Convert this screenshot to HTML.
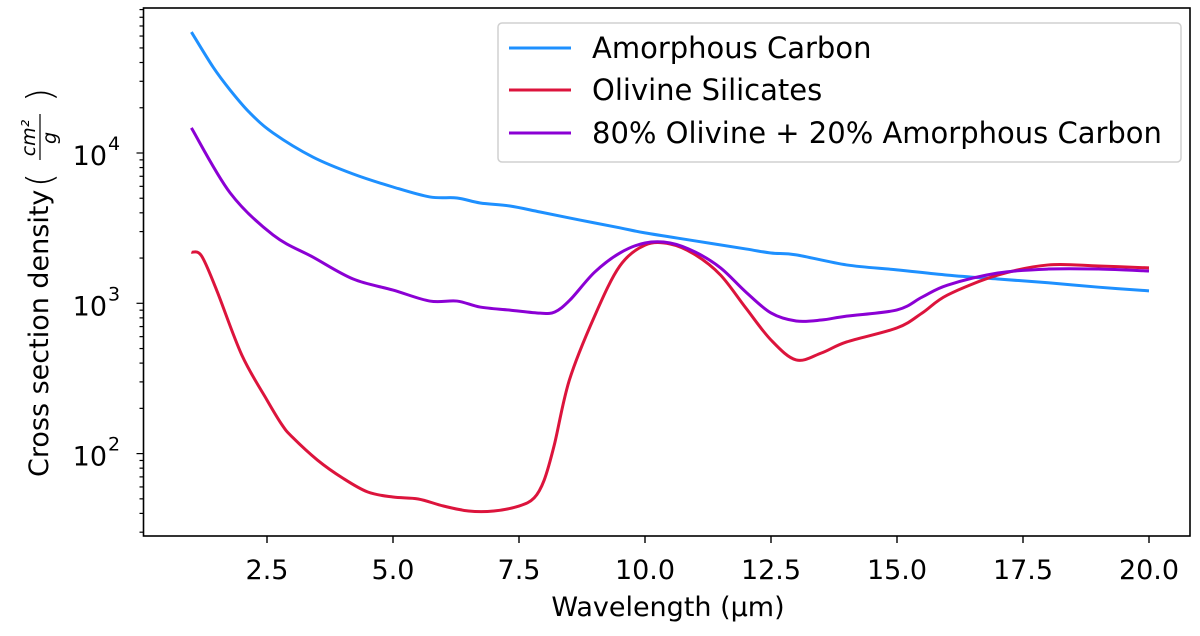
<!DOCTYPE html>
<html><head><meta charset="utf-8"><style>
html,body{margin:0;padding:0;background:#fff;}
svg{display:block;font-family:"DejaVu Sans","Liberation Sans",sans-serif;}
</style></head><body>
<svg id="chart" width="1200" height="636" viewBox="0 0 1200 636" xmlns="http://www.w3.org/2000/svg"></svg>
<script>
const wlCarbon=[1.0,1.43,1.77,2.16,2.62,3.41,4.21,5.0,5.73,6.27,6.73,7.32,7.92,8.71,9.5,10,11,12,12.5,13,14,15,16,17,18,19,20];
const carbon=[63800,37300,26200,18500,13600,9400,7250,5940,5100,5020,4650,4440,4050,3580,3180,2940,2600,2300,2160,2100,1800,1670,1540,1450,1370,1280,1210];
const wlOlivine=[1.0,1.2,1.5,2.0,2.5,2.8,3.0,3.5,4.0,4.5,5.0,5.5,6.0,6.5,7.0,7.5,7.8,8.0,8.2,8.5,9.0,9.5,10,10.5,11,11.5,12,12.5,13,13.5,14,15,15.5,16,17,18,19,20];
const olivine=[2190,2070,1225,453,227,155,129,90.6,68.8,55.5,51.4,49.9,44.8,41.5,41.5,44.8,50.7,66.7,114,309,822,1770,2440,2480,2100,1540,931,570,420,467,553,686,862,1135,1540,1800,1770,1720];
const wlMix=[1.0,1.77,2.62,3.41,4.21,5.0,5.73,6.27,6.73,7.32,7.92,8.21,8.51,9.0,9.5,10,10.5,11,11.5,12,12.5,13,13.5,14,15,15.5,16,17,18,19,20];
const mix=[14700,5420,2850,2030,1450,1225,1035,1035,944,901,860,876,1050,1610,2160,2520,2520,2190,1720,1190,863,763,774,822,903,1100,1320,1590,1690,1690,1640];
const xTicks=[2.5,5.0,7.5,10.0,12.5,15.0,17.5,20.0];
const yMajor=[2,3,4];
const seriesNames=["Amorphous Carbon","Olivine Silicates","80% Olivine + 20% Amorphous Carbon"];
const seriesColors=["#1e90ff","#dc143c","#8b00d4"];

const NS="http://www.w3.org/2000/svg";
const svg=document.getElementById('chart');
const L=143.5,R=1190,T=8,B=536;
const xS=v=>141+v*50.4;
const yS=v=>153+(4-Math.log10(v))*150.3;
function mk(tag,attrs,parent){const e=document.createElementNS(NS,tag);for(const k in attrs)e.setAttribute(k,attrs[k]);(parent||svg).appendChild(e);return e;}

const sets=[[wlCarbon,carbon],[wlOlivine,olivine],[wlMix,mix]];
const seriesKeys=["series-amorphous-carbon","series-olivine-silicates","series-mixture"];
sets.forEach((s,i)=>{
  const pts=s[0].map((w,j)=>[xS(w),yS(s[1][j])]);
  let d="M"+pts[0][0]+","+pts[0][1];
  for(let j=0;j<pts.length-1;j++){
    const p0=pts[Math.max(0,j-1)],p1=pts[j],p2=pts[j+1],p3=pts[Math.min(pts.length-1,j+2)];
    const c1=[p1[0]+(p2[0]-p0[0])/6,p1[1]+(p2[1]-p0[1])/6];
    const c2=[p2[0]-(p3[0]-p1[0])/6,p2[1]-(p3[1]-p1[1])/6];
    d+=" C"+c1+" "+c2+" "+p2;
  }
  const p=mk('path',{d:d,fill:'none',stroke:seriesColors[i],'stroke-width':3,'stroke-linejoin':'round'});
  
  
});

const fr=mk('rect',{x:L,y:T,width:R-L,height:B-T,fill:'none',stroke:'#000','stroke-width':1.6});



xTicks.forEach(t=>{
  const x=xS(t);
  mk('line',{x1:x,y1:B,x2:x,y2:B+7,stroke:'#000','stroke-width':1.4});
  const tx=mk('text',{x:x,y:B+43,'text-anchor':'middle','font-size':27,fill:'#000'});
  tx.textContent=t.toFixed(1);
  
  
});
for(let e=1;e<=4;e++){
  for(let m=1;m<10;m++){
    const v=m*Math.pow(10,e);const y=yS(v);
    if(y<T||y>B)continue;
    const len=m===1?7:4;
    mk('line',{x1:L-len,y1:y,x2:L,y2:y,stroke:'#000','stroke-width':1.2});
  }
}
yMajor.forEach(e=>{
  const y=yS(Math.pow(10,e));
  const tx=mk('text',{x:107,y:y+12,'text-anchor':'end','font-size':27,fill:'#000'});
  tx.textContent='10';
  
  
  const sp=mk('text',{x:108,y:y-3,'text-anchor':'start','font-size':19,fill:'#000'});
  sp.textContent=String(e);
});

const xl=mk('text',{x:668,y:616,'text-anchor':'middle','font-size':27,fill:'#000'});
xl.textContent='Wavelength (μm)';



const yg=mk('g',{transform:'translate(48,0) rotate(-90)'});


const yt=mk('text',{x:-477,y:0,'text-anchor':'start','font-size':27,fill:'#000'},yg);
yt.textContent='Cross section density';
mk('text',{x:-180,y:4,'text-anchor':'middle','font-size':36,fill:'#000','font-weight':'200'},yg).textContent='(';
mk('text',{x:-95,y:4,'text-anchor':'middle','font-size':36,fill:'#000','font-weight':'200'},yg).textContent=')';
mk('text',{x:-138,y:-13,'text-anchor':'middle','font-size':19,'font-style':'italic',fill:'#000'},yg).textContent='cm²';
mk('line',{x1:-160,y1:-8,x2:-114,y2:-8,stroke:'#000','stroke-width':1.2},yg);
mk('text',{x:-138,y:8,'text-anchor':'middle','font-size':19,'font-style':'italic',fill:'#000'},yg).textContent='g';

const lg=mk('g',{});


mk('rect',{x:498,y:23,width:683,height:139,rx:4,fill:'#fff',stroke:'#d0d0d0','stroke-width':1.5},lg);
const rows=[48,90,133];
seriesNames.forEach((n,i)=>{
  const g=mk('g',{},lg);
  
  
  mk('line',{x1:509,y1:rows[i],x2:571,y2:rows[i],stroke:seriesColors[i],'stroke-width':3},g);
  const t=mk('text',{x:592,y:rows[i]+10,'font-size':29,fill:'#000'},g);
  t.textContent=n;
});
</script>
</body></html>
